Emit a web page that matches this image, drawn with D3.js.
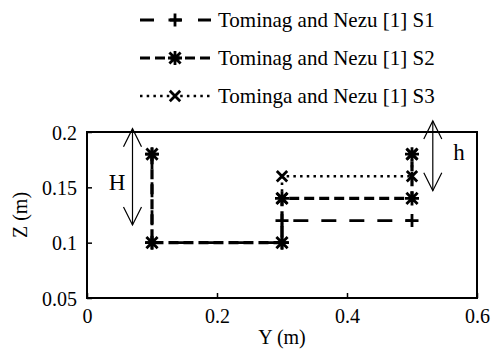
<!DOCTYPE html>
<html>
<head>
<meta charset="utf-8">
<script src="https://d3js.org/d3.v7.min.js"></script>
<style>
  body { margin: 0; background: #fff; }
  svg { display: block; }
</style>
</head>
<body>
<div id="chart"></div>
<script>
// data (Y, Z in metres)
var seriesNames = ["Tominag and Nezu [1] S1", "Tominag and Nezu [1] S2", "Tominga and Nezu [1] S3"];
var s1 = [[0.1, 0.18], [0.1, 0.1], [0.3, 0.1], [0.3, 0.12], [0.5, 0.12]];
var s2 = [[0.1, 0.18], [0.1, 0.1], [0.3, 0.1], [0.3, 0.14], [0.5, 0.14], [0.5, 0.18]];
var s3 = [[0.3, 0.14], [0.3, 0.16], [0.5, 0.16], [0.5, 0.18]];
var xTicks = [0, 0.2, 0.4, 0.6];
var yTicks = [0.05, 0.1, 0.15, 0.2];
// annotation arrows: [y, zTop, zBottom]
var arrowH = [0.07, 0.203, 0.116];
var arrowh = [0.532, 0.21, 0.147];

var W = 493, H = 351;
var FONT = "Liberation Serif";
var fontSize = 20;
var svg = d3.select("#chart").append("svg").attr("width", W).attr("height", H);

var x = d3.scaleLinear().domain([0, 0.6]).range([87, 477]);
var y = d3.scaleLinear().domain([0.05, 0.2]).range([298, 132]);

function label(sel, size) {
  return sel.attr("font-family", FONT).attr("font-size", size || fontSize).attr("fill", "#000");
}

// axes with inward ticks
var xAxis = svg.append("g").attr("transform", "translate(0," + y(0.05) + ")")
  .call(d3.axisBottom(x).tickValues(xTicks).tickSize(-5).tickPadding(11)
    .tickFormat(function (d) { return d3.format("")(+d.toFixed(2)); }));
var yAxis = svg.append("g").attr("transform", "translate(" + x(0) + ",0)")
  .call(d3.axisLeft(y).tickValues(yTicks).tickSize(-5).tickPadding(10)
    .tickFormat(function (d) { return d3.format("")(+d.toFixed(2)); }));
[xAxis, yAxis].forEach(function (a) {
  a.attr("font-family", FONT).attr("font-size", fontSize);
  a.select(".domain").remove();
  a.selectAll("line").attr("stroke", "#000").attr("stroke-width", 1.5);
  label(a.selectAll("text"));
});
yAxis.selectAll("text").attr("dy", "0.35em");

// frame
svg.append("rect")
  .attr("x", x(0)).attr("y", y(0.2))
  .attr("width", x(0.6) - x(0)).attr("height", y(0.05) - y(0.2))
  .attr("fill", "none").attr("stroke", "#000").attr("stroke-width", 2);

label(svg.append("text")).attr("x", (x(0) + x(0.6)) / 2).attr("y", 344)
  .attr("text-anchor", "middle").text("Y (m)");
label(svg.append("text")).attr("transform", "translate(27," + ((y(0.05) + y(0.2)) / 2) + ") rotate(-90)")
  .attr("text-anchor", "middle").text("Z (m)");

// markers
function marker(type, s) {
  var p = "";
  if (type === "plus" || type === "star") p += "M" + (-s) + ",0H" + s + "M0," + (-s) + "V" + s;
  if (type === "cross" || type === "star") {
    var c = s * 0.8;
    p += "M" + (-c) + "," + (-c) + "L" + c + "," + c + "M" + (-c) + "," + c + "L" + c + "," + (-c);
  }
  return p;
}

var styles = [
  { data: s1, dash: "15,13", width: 2.8, mark: "plus", ms: 6.5 },
  { data: s2, dash: "10,5", width: 3.2, mark: "star", ms: 7 },
  { data: s3, dash: "2.5,4.2", width: 2.6, mark: "cross", ms: 6.5 }
];

var line = d3.line().x(function (d) { return x(d[0]); }).y(function (d) { return y(d[1]); });

styles.forEach(function (st) {
  svg.append("path").attr("d", line(st.data))
    .attr("fill", "none").attr("stroke", "#000")
    .attr("stroke-width", st.width).attr("stroke-dasharray", st.dash);
  svg.selectAll(null).data(st.data).enter().append("path")
    .attr("transform", function (d) { return "translate(" + x(d[0]) + "," + y(d[1]) + ")"; })
    .attr("d", marker(st.mark, st.ms))
    .attr("stroke", "#000").attr("stroke-width", 2.8).attr("fill", "none");
});

// arrows (H, h)
function arrow(a, txt, lx, ly) {
  var ax = x(a[0]), t = y(a[1]), b = y(a[2]);
  var g = svg.append("g").attr("stroke", "#000").attr("stroke-width", 1.2).attr("fill", "none");
  g.append("line").attr("x1", ax).attr("x2", ax).attr("y1", t).attr("y2", b);
  g.append("path").attr("d", "M" + (ax - 9) + "," + (t + 18) + "L" + ax + "," + t + "L" + (ax + 9) + "," + (t + 18));
  g.append("path").attr("d", "M" + (ax - 9) + "," + (b - 18) + "L" + ax + "," + b + "L" + (ax + 9) + "," + (b - 18));
  label(svg.append("text"), 23).attr("x", lx).attr("y", ly).attr("text-anchor", "middle")
    .attr("dy", "0.35em").text(txt);
}
arrow(arrowH, "H", 117, 182);
arrow(arrowh, "h", 459, 152);

// legend
var legY = [20, 58, 96];
styles.forEach(function (st, i) {
  var ly = legY[i];
  var lg = svg.append("line").attr("x1", 140).attr("x2", 211).attr("y1", ly).attr("y2", ly)
    .attr("stroke", "#000").attr("stroke-width", st.width).attr("stroke-dasharray", st.dash);
  if (i === 0) lg.attr("stroke-dasharray", "14,16,12,16,14");
  svg.append("path").attr("transform", "translate(175," + ly + ")")
    .attr("d", marker(st.mark, st.ms)).attr("stroke", "#000").attr("stroke-width", 2.8).attr("fill", "none");
  label(svg.append("text"), 21).attr("x", 218).attr("y", ly).attr("dy", "0.35em")
    .text(seriesNames[i]);
});
</script>
</body>
</html>
